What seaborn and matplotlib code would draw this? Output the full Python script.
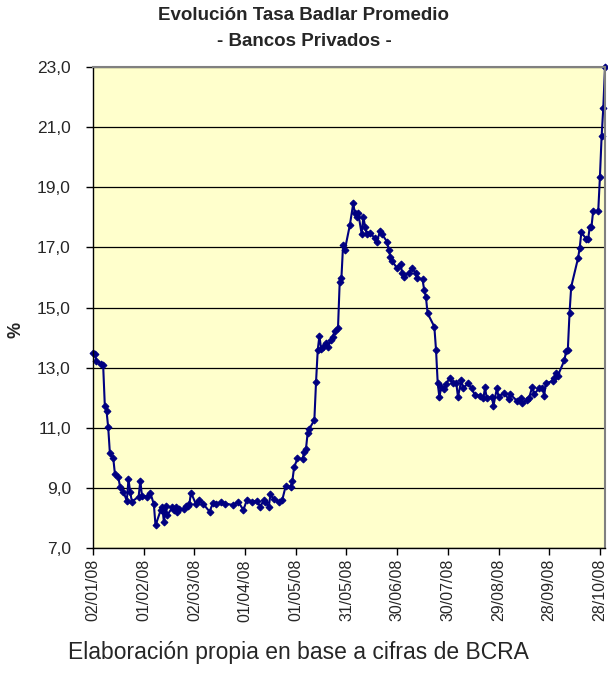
import matplotlib
matplotlib.use("Agg")
import matplotlib.pyplot as plt
import pandas as pd
import seaborn as sns

# Tasa Badlar promedio, bancos privados
fechas = [
    "2008-01-02", "2008-01-03", "2008-01-04", "2008-01-07", "2008-01-08", "2008-01-09",
    "2008-01-10", "2008-01-11", "2008-01-12", "2008-01-14", "2008-01-15", "2008-01-17",
    "2008-01-18", "2008-01-20", "2008-01-22", "2008-01-23", "2008-01-24", "2008-01-25",
    "2008-01-29", "2008-01-30", "2008-01-31", "2008-02-03", "2008-02-05", "2008-02-07",
    "2008-02-08", "2008-02-11", "2008-02-12", "2008-02-13", "2008-02-14", "2008-02-15",
    "2008-02-18", "2008-02-19", "2008-02-20", "2008-02-21", "2008-02-22", "2008-02-25",
    "2008-02-26", "2008-02-27", "2008-02-28", "2008-02-29", "2008-03-03", "2008-03-05",
    "2008-03-07", "2008-03-11", "2008-03-13", "2008-03-15", "2008-03-18", "2008-03-20",
    "2008-03-25", "2008-03-28", "2008-03-31", "2008-04-02", "2008-04-05", "2008-04-08",
    "2008-04-10", "2008-04-12", "2008-04-13", "2008-04-15", "2008-04-16", "2008-04-18",
    "2008-04-21", "2008-04-23", "2008-04-25", "2008-04-28", "2008-04-29", "2008-04-30",
    "2008-05-02", "2008-05-05", "2008-05-06", "2008-05-07", "2008-05-08", "2008-05-09",
    "2008-05-12", "2008-05-13", "2008-05-14", "2008-05-15", "2008-05-16", "2008-05-17",
    "2008-05-19", "2008-05-20", "2008-05-22", "2008-05-23", "2008-05-24", "2008-05-26",
    "2008-05-27", "2008-05-28", "2008-05-29", "2008-05-30", "2008-06-02", "2008-06-04",
    "2008-06-05", "2008-06-06", "2008-06-07", "2008-06-09", "2008-06-10", "2008-06-11",
    "2008-06-12", "2008-06-14", "2008-06-17", "2008-06-18", "2008-06-20", "2008-06-21",
    "2008-06-24", "2008-06-25", "2008-06-26", "2008-06-27", "2008-06-30", "2008-07-02",
    "2008-07-03", "2008-07-04", "2008-07-07", "2008-07-09", "2008-07-11", "2008-07-12",
    "2008-07-15", "2008-07-16", "2008-07-17", "2008-07-18", "2008-07-22", "2008-07-23",
    "2008-07-24", "2008-07-25", "2008-07-26", "2008-07-28", "2008-07-29", "2008-07-31",
    "2008-08-02", "2008-08-04", "2008-08-05", "2008-08-07", "2008-08-08", "2008-08-11",
    "2008-08-13", "2008-08-15", "2008-08-18", "2008-08-20", "2008-08-21", "2008-08-22",
    "2008-08-25", "2008-08-26", "2008-08-28", "2008-08-29", "2008-09-01", "2008-09-04",
    "2008-09-05", "2008-09-09", "2008-09-11", "2008-09-12", "2008-09-15", "2008-09-16",
    "2008-09-18", "2008-09-19", "2008-09-22", "2008-09-24", "2008-09-25", "2008-09-26",
    "2008-09-30", "2008-10-01", "2008-10-02", "2008-10-03", "2008-10-07", "2008-10-08",
    "2008-10-09", "2008-10-10", "2008-10-11", "2008-10-15", "2008-10-16", "2008-10-17",
    "2008-10-20", "2008-10-21", "2008-10-22", "2008-10-23", "2008-10-24", "2008-10-27",
    "2008-10-28", "2008-10-29", "2008-10-30", "2008-10-31",
]
tasas = [
    13.47, 13.45, 13.23, 13.12, 13.09, 11.72,
    11.56, 11.01, 10.15, 9.98, 9.45, 9.35,
    9.04, 8.87, 8.57, 9.28, 8.87, 8.54,
    8.71, 9.23, 8.73, 8.71, 8.82, 8.46,
    7.75, 8.25, 8.35, 7.85, 8.40, 8.10,
    8.35, 8.25, 8.35, 8.20, 8.30, 8.30,
    8.40, 8.40, 8.45, 8.84, 8.45, 8.59,
    8.48, 8.21, 8.50, 8.46, 8.54, 8.48,
    8.43, 8.54, 8.26, 8.59, 8.54, 8.57,
    8.37, 8.59, 8.54, 8.35, 8.78, 8.62,
    8.54, 8.60, 9.05, 9.04, 9.24, 9.68,
    9.98, 9.96, 10.20, 10.28, 10.81, 10.96,
    11.26, 12.53, 13.59, 14.06, 13.62, 13.67,
    13.81, 13.70, 13.92, 14.03, 14.23, 14.33,
    15.86, 15.97, 17.08, 16.91, 17.74, 18.46,
    18.13, 18.02, 18.13, 17.44, 18.02, 17.69,
    17.44, 17.47, 17.30, 17.19, 17.56, 17.44,
    17.19, 16.91, 16.69, 16.55, 16.30, 16.45,
    16.14, 16.02, 16.16, 16.30, 16.14, 15.97,
    15.94, 15.58, 15.36, 14.81, 14.36, 13.59,
    12.48, 12.01, 12.34, 12.30, 12.46, 12.64,
    12.49, 12.48, 12.02, 12.60, 12.31, 12.48,
    12.31, 12.09, 12.07, 11.98, 12.34, 11.98,
    12.03, 11.73, 12.31, 12.03, 12.15, 11.96,
    12.11, 11.89, 12.00, 11.81, 11.92, 11.98,
    12.37, 12.11, 12.31, 12.33, 12.07, 12.48,
    12.55, 12.64, 12.81, 12.72, 13.25, 13.56,
    13.59, 14.81, 15.69, 16.63, 16.97, 17.50,
    17.27, 17.27, 17.69, 17.69, 18.21, 18.21,
    19.35, 20.70, 21.65, 23.00,
]

ticks_x = ["2008-01-02", "2008-02-01", "2008-03-02", "2008-04-01", "2008-05-01", "2008-05-31",
           "2008-06-30", "2008-07-30", "2008-08-29", "2008-09-28", "2008-10-28"]
etiquetas_x = ["02/01/08", "01/02/08", "02/03/08", "01/04/08", "01/05/08", "31/05/08",
               "30/06/08", "30/07/08", "29/08/08", "28/09/08", "28/10/08"]
ticks_y = [7, 9, 11, 13, 15, 17, 19, 21, 23]
etiquetas_y = ["7,0", "9,0", "11,0", "13,0", "15,0", "17,0", "19,0", "21,0", "23,0"]

sns.set_style("white")
plt.rcParams["font.family"] = ["Liberation Sans", "DejaVu Sans"]

dtf = pd.DataFrame({"fecha": pd.to_datetime(fechas), "tasa": tasas})

fig = plt.figure(figsize=(6.08, 6.81), dpi=100)
ax = fig.add_axes([93 / 608, 1 - 548 / 681, 512 / 608, 481 / 681])
ax.set_facecolor("#FFFFCC")

sns.lineplot(data=dtf, x="fecha", y="tasa", ax=ax, color="#000080", lw=1.5,
             marker="D", markersize=3.5, markeredgecolor="#000080", estimator=None)
for ln in ax.lines:
    ln.set_clip_on(False)

ax.set_xlim(pd.Timestamp("2008-01-02"), pd.Timestamp("2008-10-31"))
ax.set_ylim(7, 23)
ax.set_xticks(pd.to_datetime(ticks_x))
ax.set_xticklabels(etiquetas_x, rotation=90)
ax.set_yticks(ticks_y)
ax.set_yticklabels(etiquetas_y)
ax.set_xlabel("")
ax.set_ylabel("")

ax.yaxis.grid(True, color="black", lw=0.9)
ax.set_axisbelow(True)
for lado in ["left", "bottom"]:
    ax.spines[lado].set_color("black")
    ax.spines[lado].set_linewidth(1.0)
for lado in ["top", "right"]:
    ax.spines[lado].set_color("#808080")
    ax.spines[lado].set_linewidth(1.5)
ax.tick_params(axis="both", direction="out", length=5, width=1, color="black",
               bottom=True, left=True)
ax.tick_params(axis="y", pad=11, labelsize=12.5)
ax.tick_params(axis="x", pad=3, labelsize=11.5)

fig.text(0.5, 1 - 15 / 681, "Evolución Tasa Badlar Promedio", ha="center", va="center",
         fontsize=13.5, fontweight="bold")
fig.text(0.5, 1 - 42 / 681, "- Bancos Privados -", ha="center", va="center",
         fontsize=13.5, fontweight="bold")
fig.text(16 / 608, 1 - 330 / 681, "%", rotation=90, ha="center", va="center",
         fontsize=13, fontweight="bold")
fig.text(298 / 608, 1 - 652 / 681, "Elaboración propia en base a cifras de BCRA",
         ha="center", va="center", fontsize=16.5)

fig.savefig("out.png", dpi=100, facecolor="white")
